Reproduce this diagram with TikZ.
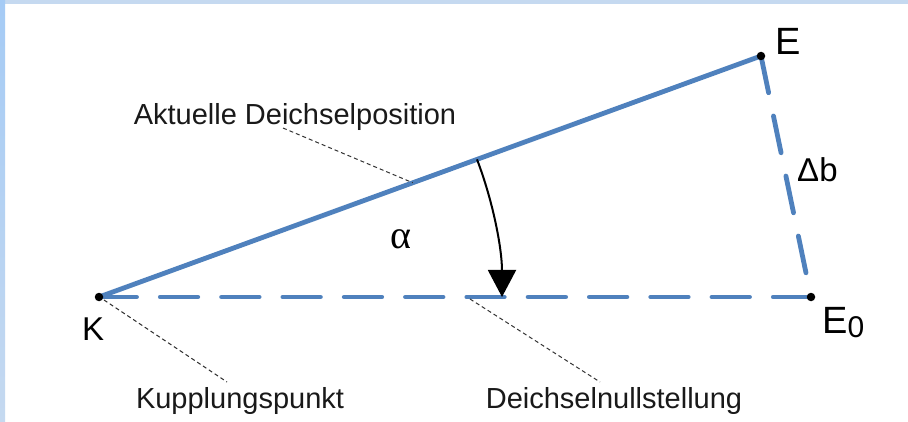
\documentclass[tikz,border=0pt]{standalone}
\usepackage{fontspec}
\setmainfont{Liberation Sans}
\newfontfamily\greekserif{Liberation Serif}
\usetikzlibrary{arrows.meta,calc}
\definecolor{lineblue}{RGB}{79,129,189}
\definecolor{frametop}{RGB}{197,217,240}
\definecolor{framebot}{RGB}{165,203,245}
\begin{document}
\begin{tikzpicture}[x=1pt,y=-1pt,
  beam/.style={lineblue,line width=4.8pt,line cap=round},
  beamdash/.style={beam,dash pattern=on 37.5pt off 23.8pt},
  leader/.style={black!80,line width=1pt,dash pattern=on 4pt off 3pt},
  dot/.style={circle,fill=black,inner sep=0pt,minimum size=8.5pt},
  lbl/.style={font=\fontsize{29}{34}\selectfont,inner sep=0pt,anchor=base,text=black!90},
  ptlbl/.style={inner sep=0pt,anchor=base west},
  swing/.style={black,line width=2pt,-{Triangle[length=27pt,width=28pt]}}
]
\useasboundingbox (0,0) rectangle (908,422);
\fill[white] (0,0) rectangle (908,422);
\fill[frametop] (0,0) rectangle (908,4);
\shade[top color=framebot,bottom color=frametop] (0,0) rectangle (5,422);

% points
\coordinate (K) at (99,297);
\coordinate (E) at (761,56);
\coordinate (E0) at (811,297);

% lines
\draw[beam] (K) -- (E);
\draw[beamdash] (K) -- (E0);
\draw[beamdash] (E) -- (E0);

% angle arrow (arc about K)
\coordinate (A1) at ($(K)!0.571!(E)$);
\coordinate (A2) at (502,297);
\draw[swing] (A1) .. controls (493.6,203) and (502,249.5) .. (A2);

% dots
\node[dot] (Kd) at (K) {};
\node[dot] (Ed) at (E) {};
\node[dot] (E0d) at (E0) {};

% point labels
\node[ptlbl,font=\fontsize{33}{36}\selectfont] (Kl) at (82,340) {K};
\node[ptlbl,font=\fontsize{38}{40}\selectfont] (El) at (775,55) {E};
\node[ptlbl,font=\fontsize{38}{40}\selectfont] (E0l) at (822,333) {E\raisebox{-5pt}{\fontsize{30}{30}\selectfont 0}};
\node[ptlbl,font=\fontsize{33}{36}\selectfont] (db) at (797,182) {Δb};
\node[ptlbl,font=\fontsize{40}{40}\selectfont\greekserif] (alpha) at (390,249) {α};

% descriptive labels
\node[lbl] (akt) at (295,125) {Aktuelle Deichselposition};
\node[lbl] (kup) at (240,408) {Kupplungspunkt};
\node[lbl] (null) at (614,408) {Deichselnullstellung};

% leaders
\coordinate (L1a) at (283,128);
\coordinate (L1b) at ($(K)!0.474!(E)$);
\coordinate (L2a) at (104,300);
\coordinate (L2b) at (227,382);
\coordinate (L3a) at (470,299);
\coordinate (L3b) at (600,382);
\draw[leader] (L1a) -- (L1b);
\draw[leader] (L2a) -- (L2b);
\draw[leader] (L3a) -- (L3b);
\end{tikzpicture}
\end{document}
